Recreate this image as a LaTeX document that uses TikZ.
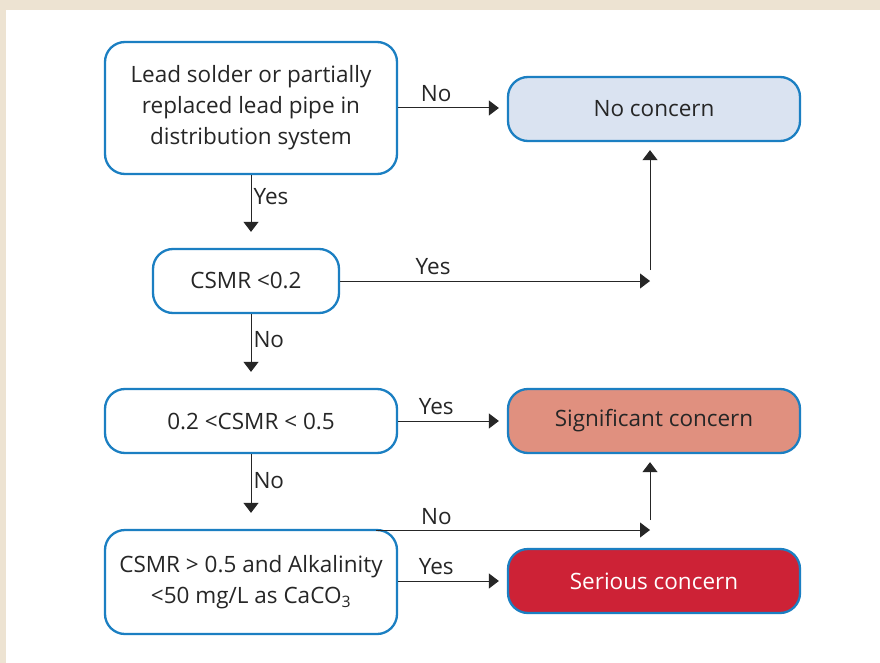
\documentclass[tikz,border=0pt]{standalone}
\usepackage{fontspec}
\setmainfont{Open Sans}
\usetikzlibrary{positioning, arrows.meta, shapes}
\definecolor{frameblue}{HTML}{1B7FC2}
\definecolor{paper}{HTML}{EDE3D2}
\definecolor{inkgrey}{HTML}{262626}
\definecolor{nofill}{HTML}{DAE3F1}
\definecolor{sigfill}{HTML}{E0907F}
\definecolor{serfill}{HTML}{CD2236}
\tikzstyle{qbox} = [draw=frameblue, line width=2.3pt, rounded corners=20pt, fill=white, text=inkgrey, align=center, minimum width=292pt, minimum height=64pt, font=\fontsize{22.5}{31}\selectfont]
\tikzstyle{endbox} = [qbox, minimum width=292pt]
\tikzstyle{link} = [draw=inkgrey, line width=1pt, -{Triangle[length=10pt,width=15pt]}]
\tikzstyle{lbl} = [text=inkgrey, font=\fontsize{22.5}{24}\selectfont, inner sep=2pt]

\begin{document}
\begin{tikzpicture}[x=1pt, y=-1pt]
      % frame
      \fill[paper] (0,0) rectangle (880,663);
      \fill[white] (6,10) rectangle (880,663);
      \useasboundingbox (0,0) rectangle (880,663);

      % questions
      \node[qbox, minimum height=132pt] (lead) at (251,108) {Lead solder or partially\\replaced lead pipe in\\distribution system};
      \node[qbox, minimum width=186pt] (csmr) at (246,281) {CSMR <0.2};
      \node[qbox] (mid) at (251,421) {0.2 <CSMR < 0.5};
      \node[qbox, minimum height=104pt] (alk) at (251,582) {CSMR > 0.5 and Alkalinity\\<50 mg/L as CaCO\textsubscript{3}};

      % outcomes
      \node[endbox, fill=nofill] (nocon) at (654,109) {No concern};
      \node[endbox, fill=sigfill] (sig) at (654,421) {Significant concern};
      \node[endbox, fill=serfill, text=white] (ser) at (654,581) {Serious concern};

      \coordinate (j1) at (650,281);
      \coordinate (j2) at (650,530);

      % connectors
      \draw[link, shorten >=8pt] (lead.east |- 0,108) -- node[lbl, above=4pt, pos=0.35] {No} (nocon.west |- 0,108);
      \draw[link, shorten >=16pt] (lead.south -| 251,0) -- node[lbl, right, pos=0.3] {Yes} (csmr.north -| 251,0);
      \draw[link] (csmr.east) -- node[lbl, above=4pt, pos=0.3] {Yes} (j1);
      \draw[link, shorten >=8pt] ([yshift=11pt]j1) -- (j1 |- nocon.south);
      \draw[link, shorten >=16pt] (csmr.south -| 251,0) -- node[lbl, right, pos=0.35] {No} (mid.north);
      \draw[link, shorten >=8pt] (mid.east) -- node[lbl, above=4pt, pos=0.35] {Yes} (sig.west);
      \draw[link, shorten >=16pt] (mid.south) -- node[lbl, right, pos=0.35] {No} (alk.north);
      \draw[link] ([xshift=-22pt]alk.north east |- j2) -- node[lbl, above=3pt, pos=0.22] {No} (j2);
      \draw[link, shorten >=8pt] ([yshift=10pt]j2) -- (j2 |- sig.south);
      \draw[link, shorten >=8pt] (alk.east |- ser.west) -- node[lbl, above=4pt, pos=0.35] {Yes} (ser.west);
    \end{tikzpicture}
\end{document}
